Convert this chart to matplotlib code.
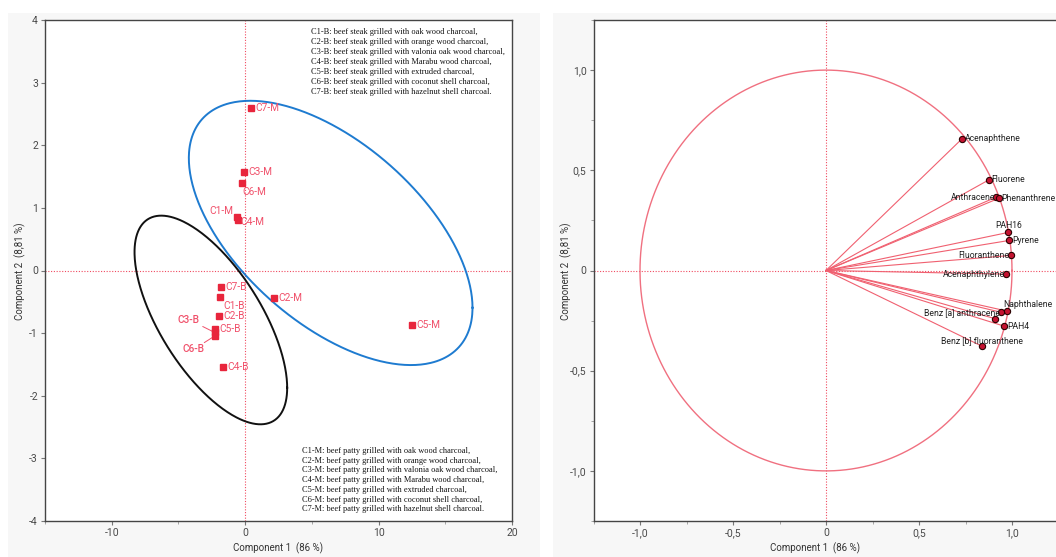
import numpy as np
import matplotlib
matplotlib.use('Agg')
import matplotlib.pyplot as plt
from matplotlib.ticker import MultipleLocator, FuncFormatter
from matplotlib.patches import Rectangle

# ---------------- data ----------------
sample_names = ['C1-B', 'C2-B', 'C3-B', 'C4-B', 'C5-B', 'C6-B', 'C7-B',
                'C1-M', 'C2-M', 'C3-M', 'C4-M', 'C5-M', 'C6-M', 'C7-M']
score_pc1 = [-1.89, -1.96, -2.28, -1.66, -2.26, -2.24, -1.79,
             -0.64, 2.16, -0.09, -0.54, 12.54, -0.26, 0.47]
score_pc2 = [-0.42, -0.72, -0.99, -1.54, -0.93, -1.04, -0.26,
             0.85, -0.44, 1.58, 0.81, -0.87, 1.40, 2.59]

# confidence ellipses: centre x, centre y, half-range x, half-range y, correlation
ellipse_M = [6.41, 0.60, 10.63, 2.11, -0.566]
ellipse_B = [-2.57, -0.79, 5.72, 1.666, -0.65]

var_names = ['Acenaphthene', 'Fluorene', 'Anthracene', 'Phenanthrene', 'PAH16',
             'Pyrene', 'Fluoranthene', 'Acenaphthylene', 'Naphthalene',
             'Benz [a] anthracene', '', 'PAH4', 'Benz [b] fluoranthene']
loading_pc1 = [0.731, 0.875, 0.915, 0.928, 0.980, 0.985, 0.993, 0.968, 0.975,
               0.939, 0.907, 0.959, 0.839]
loading_pc2 = [0.657, 0.452, 0.366, 0.360, 0.190, 0.150, 0.075, -0.018, -0.203,
               -0.208, -0.240, -0.278, -0.378]

legend_B = ['C1-B: beef steak grilled with oak wood charcoal,',
            'C2-B: beef steak grilled with orange wood charcoal,',
            'C3-B: beef steak grilled with valonia oak wood charcoal,',
            'C4-B: beef steak grilled with Marabu wood charcoal,',
            'C5-B: beef steak grilled with extruded charcoal,',
            'C6-B: beef steak grilled with coconut shell charcoal,',
            'C7-B: beef steak grilled with hazelnut shell charcoal.']
legend_M = ['C1-M: beef patty grilled with oak wood charcoal,',
            'C2-M: beef patty grilled with orange wood charcoal,',
            'C3-M: beef patty grilled with valonia oak wood charcoal,',
            'C4-M: beef patty grilled with Marabu wood charcoal,',
            'C5-M: beef patty grilled with extruded charcoal,',
            'C6-M: beef patty grilled with coconut shell charcoal,',
            'C7-M: beef patty grilled with hazelnut shell charcoal.']

xlabel = 'Component 1  (86 %)'
ylabel = 'Component 2  (8,81 %)'

# ---------------- style ----------------
plt.rcParams['font.family'] = ['Roboto', 'DejaVu Sans']
W, H = 1056, 557
fig = plt.figure(figsize=(W / 100, H / 100), dpi=100, facecolor='white')

def fx(px):
    return px / W

def fy(py):
    return 1 - py / H

# light panels
fig.patches.append(Rectangle((fx(8), 0), fx(540) - fx(8), fy(13), transform=fig.transFigure,
                             facecolor='#f7f7f7', edgecolor='none', zorder=-10))
fig.patches.append(Rectangle((fx(553), 0), 1 - fx(553), fy(13), transform=fig.transFigure,
                             facecolor='#f7f7f7', edgecolor='none', zorder=-10))

tick_col = '#4a4a4a'
spine_col = '#454545'
mark_red = '#e8253c'
lab_red = '#f0506a'
zero_red = '#f04a60'

def style_axes(ax):
    for s in ax.spines.values():
        s.set_color(spine_col)
        s.set_linewidth(1.0)
    ax.tick_params(axis='both', which='major', direction='out', length=3,
                   width=0.8, color='#777777', labelsize=7.5, labelcolor=tick_col, pad=2)
    ax.tick_params(axis='both', which='minor', direction='out', length=2,
                   width=0.6, color='#999999')

# ---------------- left: score plot ----------------
ax1 = fig.add_axes([fx(45), fy(521), fx(512) - fx(45), fy(20) - fy(521)])
ax1.set_facecolor('white')
ax1.set_xlim(-15, 20)
ax1.set_ylim(-4, 4)
ax1.xaxis.set_major_locator(MultipleLocator(10))
ax1.xaxis.set_minor_locator(MultipleLocator(5))
ax1.yaxis.set_major_locator(MultipleLocator(1))
ax1.xaxis.set_major_formatter(FuncFormatter(lambda v, p: '%d' % v))
ax1.yaxis.set_major_formatter(FuncFormatter(lambda v, p: '%d' % v))
style_axes(ax1)
ax1.axhline(0, color=zero_red, lw=0.8, ls=(0, (1, 1.5)), zorder=1)
ax1.axvline(0, color=zero_red, lw=0.8, ls=(0, (1, 1.5)), zorder=1)

t = np.linspace(0, 2 * np.pi, 400)
for (cx, cy, A, B, r), col in [(ellipse_M, '#1e7bd0'), (ellipse_B, '#111111')]:
    ex = cx + A * np.cos(t)
    ey = cy + B * (r * np.cos(t) + np.sqrt(1 - r * r) * np.sin(t))
    ax1.plot(ex, ey, color=col, lw=1.4, zorder=2)

ax1.plot(score_pc1, score_pc2, ls='none', marker='s', ms=4.5, color=mark_red,
         mec=mark_red, zorder=4)

offsets = {
    'C6-M': (1, -9, 'left', 'center'),
    'C1-M': (-3, 6, 'right', 'center'),
    'C4-M': (2, -2, 'left', 'center'),
    'C1-B': (3, -9, 'left', 'center'),
    'C3-B': (-26, 12, 'center', 'center'),
    'C6-B': (-22, -13, 'center', 'center'),
}
for name, x, y in zip(sample_names, score_pc1, score_pc2):
    dx, dy, ha, va = offsets.get(name, (4, 0, 'left', 'center'))
    bold = name in ('C3-B', 'C6-B')
    ax1.annotate(name, (x, y), xytext=(dx, dy), textcoords='offset pixels',
                 ha=ha, va=va, fontsize=7.3, color=lab_red, zorder=5,
                 fontweight='medium' if bold else 'normal')
    if bold:
        sy = 6 if name == 'C3-B' else -7
        sx = -12 if name == 'C3-B' else -11
        ax1.annotate('', (x, y), xytext=(sx, sy), textcoords='offset pixels',
                     arrowprops=dict(arrowstyle='-', color=lab_red, lw=0.7,
                                     shrinkA=0, shrinkB=2))

for i, line in enumerate(legend_B):
    fig.text(fx(311), fy(32 + i * 10), line, fontsize=6, family='Liberation Serif',
             color='#111111', va='center', ha='left')
for i, line in enumerate(legend_M):
    fig.text(fx(302), fy(451 + i * 9.7), line, fontsize=6, family='Liberation Serif',
             color='#111111', va='center', ha='left')

fig.text(fx(278), fy(548), xlabel, fontsize=7, color='#333333', ha='center', va='center')
fig.text(fx(20), fy(271), ylabel, fontsize=7, color='#333333', ha='center', va='center',
         rotation=90)

# ---------------- right: loading plot ----------------
ax2 = fig.add_axes([fx(593.5), fy(521), fx(1058.5) - fx(593.5), fy(20) - fy(521)])
ax2.set_facecolor('white')
ax2.set_xlim(-1.25, 1.25)
ax2.set_ylim(-1.25, 1.25)
for axis in (ax2.xaxis, ax2.yaxis):
    axis.set_major_locator(MultipleLocator(0.5))
    axis.set_minor_locator(MultipleLocator(0.25))
    axis.set_major_formatter(FuncFormatter(
        lambda v, p: '0' if abs(v) < 1e-9 else ('%.1f' % v).replace('.', ',')))
style_axes(ax2)
ax2.axhline(0, color=zero_red, lw=0.8, ls=(0, (1, 1.5)), zorder=1)
ax2.axvline(0, color=zero_red, lw=0.8, ls=(0, (1, 1.5)), zorder=1)
ax2.plot(np.cos(t), np.sin(t), color='#f07080', lw=1.0, zorder=2)

for x, y in zip(loading_pc1, loading_pc2):
    ax2.plot([0, x], [0, y], color='#f06070', lw=0.8, zorder=3)
ax2.plot(loading_pc1, loading_pc2, ls='none', marker='o', ms=4.5, color='#c41230',
         mec='#2a0000', mew=0.8, zorder=5)

var_off = {
    'Acenaphthene': (3, 0, 'left', 'center'),
    'Fluorene': (3, 0, 'left', 'center'),
    'Anthracene': (-1, 0, 'right', 'center'),
    'Phenanthrene': (3, 0, 'left', 'center'),
    'PAH16': (0, 7, 'center', 'center'),
    'Pyrene': (3, 0, 'left', 'center'),
    'Fluoranthene': (-1, 0, 'right', 'center'),
    'Acenaphthylene': (-1, 0, 'right', 'center'),
    'Naphthalene': (-4, 7, 'left', 'center'),
    'Benz [a] anthracene': (-1, 0, 'right', 'center'),
    'PAH4': (3, 0, 'left', 'center'),
    'Benz [b] fluoranthene': (0, 6, 'center', 'center'),
}
for name, x, y in zip(var_names, loading_pc1, loading_pc2):
    if not name:
        continue
    dx, dy, ha, va = var_off[name]
    ax2.annotate(name, (x, y), xytext=(dx, dy), textcoords='offset pixels',
                 ha=ha, va=va, fontsize=6.2, color='#222222', zorder=6)

fig.text(fx(815), fy(548), xlabel, fontsize=7, color='#333333', ha='center', va='center')
fig.text(fx(566), fy(271), ylabel, fontsize=7, color='#333333', ha='center', va='center',
         rotation=90)

fig.savefig('out.png', dpi=100, facecolor='white')
